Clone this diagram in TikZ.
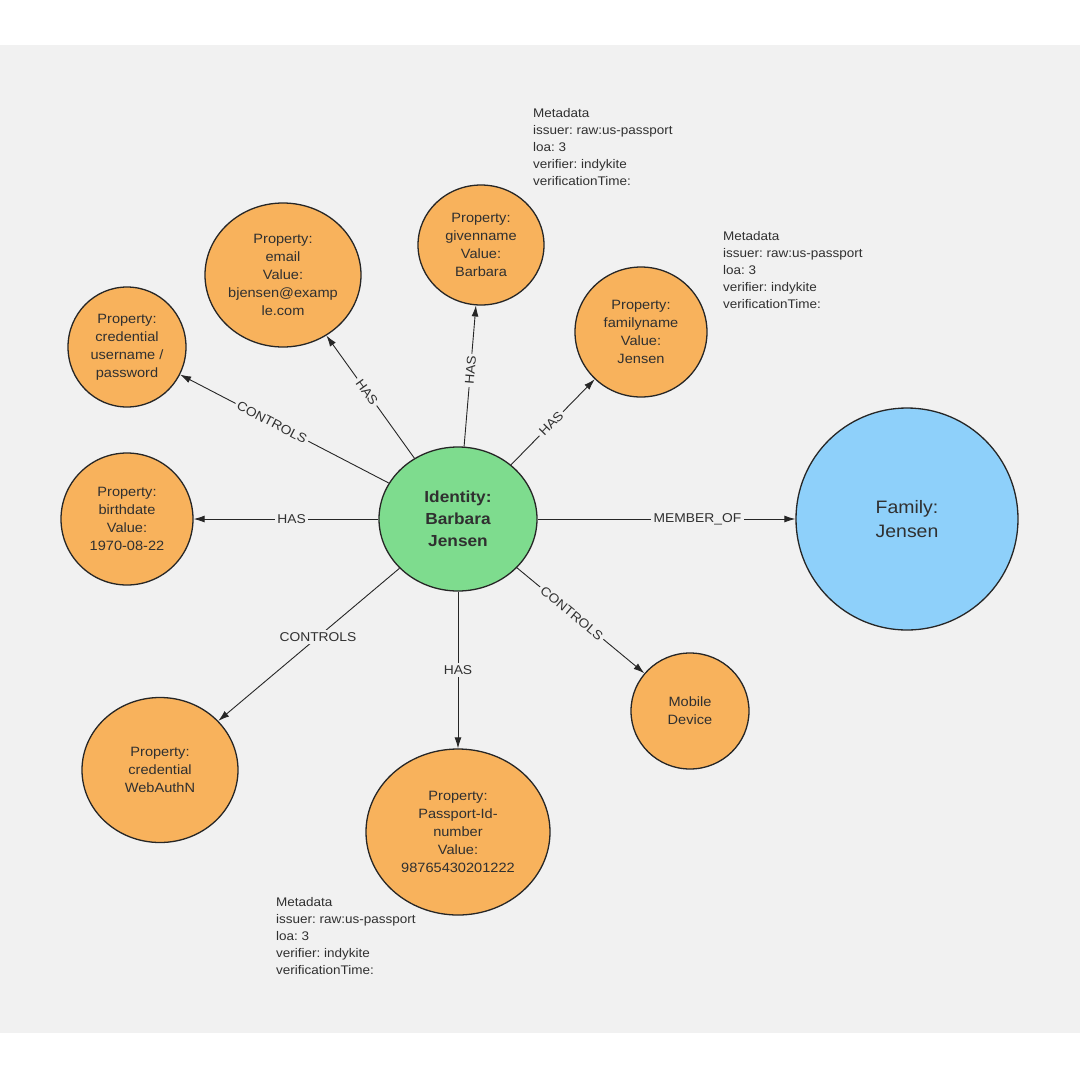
\documentclass[tikz,border=0pt]{standalone}
\usepackage{fontspec}
\setmainfont{Liberation Sans}[FakeStretch=1.08]
\usetikzlibrary{shapes.geometric,arrows.meta}
\definecolor{panel}{HTML}{F1F1F1}
\definecolor{orangefill}{HTML}{F8B25C}
\definecolor{greenfill}{HTML}{7EDC8E}
\definecolor{bluefill}{HTML}{8ED0FA}
\definecolor{ink}{HTML}{262626}
\definecolor{txt}{HTML}{303030}
\frenchspacing
\begin{document}
\begin{tikzpicture}[x=1pt,y=-1pt,
  ent/.style={ellipse,draw=ink,line width=1.3pt,inner sep=0pt,align=center,text=txt},
  prop/.style={ent,fill=orangefill,font=\fontsize{13.5}{18}\selectfont},
  rel/.style={draw=ink,line width=0.9pt,-{Latex[length=11pt,width=7pt]}},
  lbl/.style={fill=panel,inner sep=2.5pt,font=\fontsize{12.8}{14}\selectfont,text=txt},
  meta/.style={anchor=north west,inner sep=0pt,align=left,font=\fontsize{12.5}{17}\selectfont,text=txt}]

\useasboundingbox (0,0) rectangle (1080,1080);
\fill[white] (0,0) rectangle (1080,1080);
\fill[panel] (0,45) rectangle (1080,1033);

% nodes
\node[ent,fill=greenfill,minimum width=158pt,minimum height=144pt,
      font=\bfseries\fontsize{16}{22}\selectfont] (id) at (458,519) {Identity:\\Barbara\\Jensen};
\node[ent,fill=bluefill,minimum width=222pt,minimum height=222pt,
      font=\fontsize{18}{24}\selectfont] (family) at (907,519) {Family:\\Jensen};
\node[prop,minimum width=156pt,minimum height=144pt] (email) at (283,275)
      {Property:\\email\\Value:\\bjensen@examp\\le.com};
\node[prop,minimum width=126pt,minimum height=120pt] (given) at (481,245)
      {Property:\\givenname\\Value:\\Barbara};
\node[prop,minimum width=132pt,minimum height=130pt] (famname) at (641,332)
      {Property:\\familyname\\Value:\\Jensen};
\node[prop,minimum width=118pt,minimum height=120pt] (cred) at (127,347)
      {Property:\\credential\\username /\\password};
\node[prop,minimum width=132pt,minimum height=132pt] (birth) at (127,519)
      {Property:\\birthdate\\Value:\\1970-08-22};
\node[prop,minimum width=156pt,minimum height=145pt] (webauthn) at (160,770)
      {Property:\\credential\\WebAuthN};
\node[prop,minimum width=184pt,minimum height=166pt] (passport) at (458,832)
      {Property:\\Passport-Id-\\number\\Value:\\98765430201222};
\node[prop,minimum width=118pt,minimum height=116pt] (mobile) at (690,711)
      {Mobile\\Device};

% metadata
\node[meta] (meta1) at (533,108) {Metadata\\issuer: raw:us-passport\\loa: 3\\verifier: indykite\\verificationTime:};
\node[meta] (meta2) at (723,231) {Metadata\\issuer: raw:us-passport\\loa: 3\\verifier: indykite\\verificationTime:};
\node[meta] (meta3) at (276,897) {Metadata\\issuer: raw:us-passport\\loa: 3\\verifier: indykite\\verificationTime:};

% relations
\draw[rel] (id) -- node[lbl,sloped,pos=.54]{HAS} (email);
\draw[rel] (id) -- node[lbl,sloped,pos=.54]{HAS} (given);
\draw[rel] (id) -- node[lbl,sloped,pos=.48]{HAS} (famname);
\draw[rel] (id) -- node[lbl,sloped,pos=.56]{CONTROLS} (cred);
\draw[rel] (id) -- node[lbl,pos=.47]{HAS} (birth);
\draw[rel] (id) -- node[lbl,pos=.45]{CONTROLS} (webauthn);
\draw[rel] (id) -- node[lbl,pos=.5]{HAS} (passport);
\draw[rel] (id) -- node[lbl,sloped,pos=.43]{CONTROLS} (mobile);
\draw[rel] (id) -- node[lbl,pos=.62]{MEMBER\_OF} (family);
\end{tikzpicture}
\end{document}
